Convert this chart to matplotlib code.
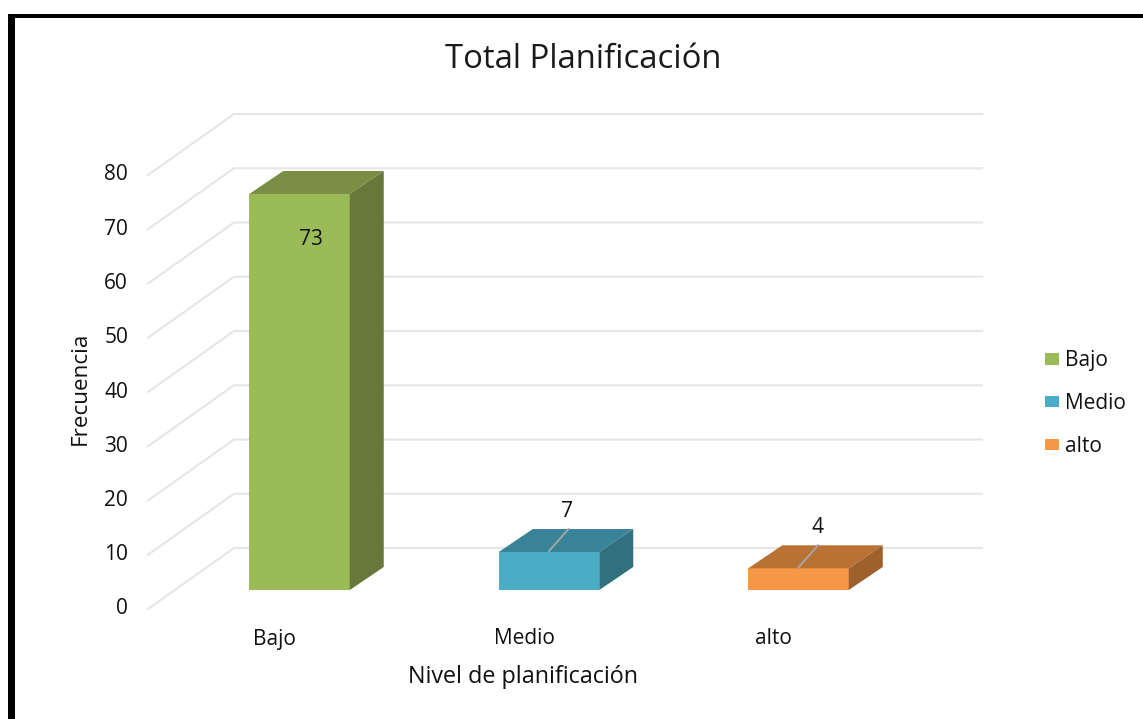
import matplotlib
matplotlib.use('Agg')
import matplotlib.pyplot as plt
from matplotlib.patches import Patch, Polygon, Rectangle

categories = ['Bajo', 'Medio', 'alto']
values = [73, 7, 4]
yticks = [0, 10, 20, 30, 40, 50, 60, 70, 80]
front_colors = ['#9BBB59', '#4BACC6', '#F79646']
top_colors = ['#7A8F45', '#388398', '#BA7234']
side_colors = ['#66783A', '#31707F', '#9E612D']

plt.rcParams['font.family'] = ['Open Sans', 'DejaVu Sans']

W, H = 1143, 719
# the chart is a fake 3d, so work out everything from the plane of the bar fronts
X0, CAT_PX = 299.5, 249.5   # pixel of first category, pixels per category
Y0, VAL_PX = 590, 5.425     # pixel of value 0, pixels per unit
FS = 15


def dx(px):
    return px / CAT_PX


def dy(px):
    return px / VAL_PX


fig = plt.figure(figsize=(W / 100, H / 100), dpi=100, facecolor='white')
ax = fig.add_axes([0, 0, 1, 1])
ax.set_xlim(-X0 / CAT_PX, (W - X0) / CAT_PX)
ax.set_ylim((Y0 - H) / VAL_PX, Y0 / VAL_PX)
ax.set_axis_off()

# picture frame, only left and top are visible in the crop
fig.add_artist(Rectangle((8 / W, 0), 6.5 / W, 1 - 14 / H, color='black', lw=0))
fig.add_artist(Rectangle((8 / W, 1 - 17.5 / H), 1 - 8 / W, 3.5 / H, color='black', lw=0))

# grid: wall lines and the slanted floor part
wall_l, wall_r = dx(234 - X0), dx(982 - X0)
front_l = dx(148 - X0)
wall_up, front_down = dy(Y0 - 548), dy(609 - Y0)
for v in yticks:
    ax.plot([front_l, wall_l, wall_r], [v - front_down, v + wall_up, v + wall_up],
            color='#E6E6E6', lw=1.5, solid_joinstyle='miter', zorder=1)
    ax.text(dx(128 - X0), v - front_down, str(v), ha='right', va='center',
            fontsize=FS, color='#111111')

# bars
bar_w = dx(100.5)
depth_x, depth_y = dx(34), dy(23)
ax.bar(range(len(values)), values, width=bar_w, color=front_colors, zorder=3)
for i, v in enumerate(values):
    l, r = i - bar_w / 2, i + bar_w / 2
    ax.add_patch(Polygon([(l, v), (r, v), (r + depth_x, v + depth_y), (l + depth_x, v + depth_y)],
                         closed=True, color=top_colors[i], lw=0, zorder=3))
    ax.add_patch(Polygon([(r, 0), (r + depth_x, depth_y), (r + depth_x, v + depth_y), (r, v)],
                         closed=True, color=side_colors[i], lw=0, zorder=3))

# data labels, the small ones have a leader line
ax.text(0 + dx(11), values[0] - dy(46), str(values[0]), ha='center', va='center',
        fontsize=FS, color='#111111', zorder=5)
for i in [1, 2]:
    v = values[i]
    ax.plot([i, i + dx(19.5)], [v + dy(1), v + dy(23)], color='#A6A6A6', lw=1.4, zorder=4)
    ax.text(i + dx(18.5), v + dy(40.5), str(v), ha='center', va='center',
            fontsize=FS, color='#111111', zorder=5)

# category labels
for i, name in enumerate(categories):
    ax.text(i - dx(25), dy(Y0 - 639), name, ha='center', va='center',
            fontsize=FS, color='#111111')

ax.text(dx(523 - X0), dy(Y0 - 677), 'Nivel de planificación', ha='center', va='center',
        fontsize=FS + 1.8, color='#111111')
ax.text(dx(80 - X0), dy(Y0 - 388), 'Frecuencia', rotation=90, ha='center', va='center',
        fontsize=FS + 1.2, color='#111111')
ax.text(dx(583 - X0), dy(Y0 - 60), 'Total Planificación', ha='center', va='center',
        fontsize=23.7, color='#1A1A1A')

handles = [Patch(facecolor=c, edgecolor='none', label=n) for c, n in zip(front_colors, categories)]
fig.legend(handles=handles, loc='center left', bbox_to_anchor=(1045 / W, 1 - 403.5 / H), frameon=False,
           fontsize=FS, labelcolor='#111111', labelspacing=1.05, handlelength=0.67,
           handleheight=0.48, handletextpad=0.3, borderpad=0, borderaxespad=0)

fig.savefig('out.png', dpi=100)
